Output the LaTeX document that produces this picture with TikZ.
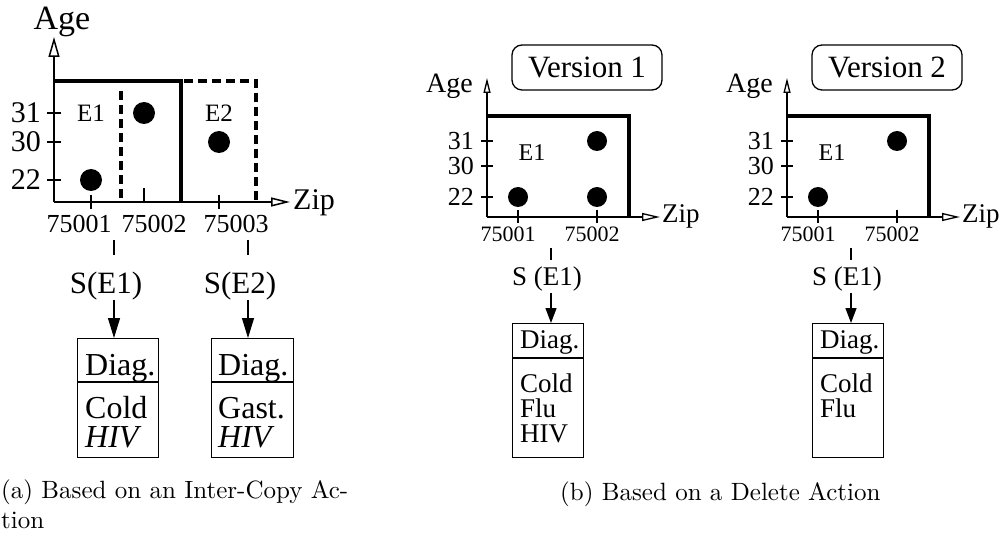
\documentclass[tikz,border=0pt]{standalone}
\usepackage{fontspec}
\newfontfamily\tms{Liberation Serif}
\newfontfamily\capfont{lmroman10-regular.otf}
\usetikzlibrary{arrows.meta}
\newcommand{\setfs}[1]{\fontsize{#1}{#1}\selectfont}

\begin{document}
\begin{tikzpicture}[x=1pt,y=-1pt,inner sep=0pt,
    axisbig/.style={line width=1.5pt,-{Triangle[open,length=20pt,width=11pt]}},
    axisbigx/.style={line width=1.5pt,-{Triangle[open,length=19pt,width=9pt]}},
    axissmall/.style={line width=1.3pt,-{Triangle[open,length=15pt,width=7pt]}},
    axissmallx/.style={line width=1.3pt,-{Triangle[open,length=18pt,width=8pt]}},
    border/.style={line width=4pt},
    dashborder/.style={line width=4pt,dash pattern=on 9pt off 5pt},
    tick/.style={line width=1.3pt},
    getarrow/.style={line width=1.3pt,-{Triangle[length=20pt,width=12pt]}},
    getarrowsmall/.style={line width=1.3pt,-{Triangle[length=15pt,width=11pt]}},
    table/.style={draw,line width=1.3pt,anchor=north west},
    version/.style={draw,line width=1.3pt,rounded corners=10pt,minimum width=150pt,minimum height=45pt,font=\tms\setfs{31}},
    biglab/.style={font=\tms\setfs{30}},
    smalllab/.style={font=\tms\setfs{26}},
    caption/.style={anchor=base west,font=\capfont\setfs{25}}]
    \useasboundingbox (0,0) rectangle (1003,537);

    % (a) inter-copy
    \node[anchor=base,font=\tms\setfs{34}] (age1) at (62,30) {Age};
    \coordinate (o1) at (54,202);
    \coordinate (ytop1) at (54,37);
    \coordinate (xend1) at (290,202);
    \draw[axisbig] (o1) -- (ytop1);
    \draw[axisbigx] (o1) -- (xend1);
    \node[biglab,anchor=base west] (zip1) at (293,210) {Zip};
    \draw[border] (54,81) -- (181,81) -- (181,202);
    \draw[dashborder] (121,91) -- (121,202);
    \draw[dashborder] (184,81) -- (256,81) -- (256,202);
    \draw[tick] (47,113) -- (61,113);
    \draw[tick] (47,142) -- (61,142);
    \draw[tick] (47,180) -- (61,180);
    \node[biglab,anchor=east] (a31) at (41,113) {31};
    \node[biglab,anchor=east] (a30) at (41,142) {30};
    \node[biglab,anchor=east] (a22) at (41,180) {22};
    \draw[tick] (91,195) -- (91,209);
    \draw[tick] (144,188) -- (144,202);
    \draw[tick] (219,195) -- (219,209);
    \node[smalllab,anchor=base] (a75001) at (79,233) {75001};
    \node[smalllab,anchor=base] (a75002) at (154,233) {75002};
    \node[smalllab,anchor=base] (a75003) at (236,233) {75003};
    \fill (91,180) circle (11);
    \fill (144,113) circle (11);
    \fill (219,142) circle (11);
    \node[font=\tms\setfs{25}] (ae1) at (91,113) {E1};
    \node[font=\tms\setfs{25}] (ae2) at (219,113) {E2};
    \draw[tick] (114,240) -- (114,255);
    \draw[tick] (248,240) -- (248,255);
    \node[font=\tms\setfs{31},anchor=base] (se1) at (106,293) {S(E1)};
    \node[font=\tms\setfs{31},anchor=base] (se2) at (240,293) {S(E2)};
    \node[table,minimum width=81pt,minimum height=119pt] (tab1) at (77,338) {};
    \node[table,minimum width=82pt,minimum height=119pt] (tab2) at (211,338) {};
    \coordinate (p1) at (114,300);
    \coordinate (p2) at (248,300);
    \draw[getarrow] (p1) -- (p1 |- tab1.north);
    \draw[getarrow] (p2) -- (p2 |- tab2.north);
    \draw[tick] (77,382) -- (158,382);
    \draw[tick] (211,382) -- (293,382);
    \node[font=\tms\setfs{32},anchor=base west] (d1) at (85,375) {Diag.};
    \node[font=\tms\setfs{32},anchor=base west] (c1) at (85,418) {Cold};
    \node[font=\tms\itshape\setfs{32},anchor=base west] (h1) at (85,447) {HIV};
    \node[font=\tms\setfs{32},anchor=base west] (d2) at (218,375) {Diag.};
    \node[font=\tms\setfs{32},anchor=base west] (g2) at (218,418) {Gast.};
    \node[font=\tms\itshape\setfs{32},anchor=base west] (h2) at (218,447) {HIV};
    \node[caption] (capa) at (1,498) {(a) Based on an Inter-Copy Ac-};
    \node[caption] (capa2) at (1,528) {tion};

    % (b) delete, version 1
    \node[version] (v1) at (587,67.5) {Version 1};
    \node[font=\tms\setfs{28},anchor=base east] (age2) at (473,93) {Age};
    \coordinate (o2) at (487,217);
    \coordinate (ytop2) at (487,78);
    \coordinate (xend2) at (660,217);
    \draw[axissmall] (o2) -- (ytop2);
    \draw[axissmallx] (o2) -- (xend2);
    \node[font=\tms\setfs{27},anchor=base west] (zip2) at (662,223) {Zip};
    \draw[border] (487,116) -- (629,116) -- (629,217);
    \draw[tick] (481,141) -- (493,141);
    \draw[tick] (481,166) -- (493,166);
    \draw[tick] (481,197) -- (493,197);
    \node[smalllab,anchor=east] (b31) at (474,141) {31};
    \node[smalllab,anchor=east] (b30) at (474,166) {30};
    \node[smalllab,anchor=east] (b22) at (474,197) {22};
    \draw[tick] (518,210) -- (518,223);
    \draw[tick] (597,210) -- (597,223);
    \node[font=\tms\setfs{22},anchor=base] (b75001) at (508,242) {75001};
    \node[font=\tms\setfs{22},anchor=base] (b75002) at (592,242) {75002};
    \node[font=\tms\setfs{24}] (be1) at (532,153) {E1};
    \fill (518,197) circle (10);
    \fill (597,141) circle (10);
    \fill (597,197) circle (10);
    \draw[tick] (551,248) -- (551,260);
    \node[font=\tms\setfs{27},anchor=base] (bs1) at (547,285) {S (E1)};
    \node[table,minimum width=71pt,minimum height=134pt] (tab3) at (512,323) {};
    \coordinate (p3) at (551,293);
    \draw[getarrowsmall] (p3) -- (p3 |- tab3.north);
    \draw[tick] (512,358) -- (583,358);
    \node[font=\tms\setfs{27},anchor=base west] (d3) at (520,348) {Diag.};
    \node[font=\tms\setfs{27},anchor=base west] (c3) at (520,392) {Cold};
    \node[font=\tms\setfs{27},anchor=base west] (f3) at (520,417) {Flu};
    \node[font=\tms\setfs{27},anchor=base west] (h3) at (520,442) {HIV};

    % (b) delete, version 2
    \node[version] (v2) at (887,67.5) {Version 2};
    \node[font=\tms\setfs{28},anchor=base east] (age3) at (773,93) {Age};
    \coordinate (o3) at (787,217);
    \coordinate (ytop3) at (787,78);
    \coordinate (xend3) at (960,217);
    \draw[axissmall] (o3) -- (ytop3);
    \draw[axissmallx] (o3) -- (xend3);
    \node[font=\tms\setfs{27},anchor=base west] (zip3) at (962,223) {Zip};
    \draw[border] (787,116) -- (929,116) -- (929,217);
    \draw[tick] (781,141) -- (793,141);
    \draw[tick] (781,166) -- (793,166);
    \draw[tick] (781,197) -- (793,197);
    \node[smalllab,anchor=east] (c31) at (774,141) {31};
    \node[smalllab,anchor=east] (c30) at (774,166) {30};
    \node[smalllab,anchor=east] (c22) at (774,197) {22};
    \draw[tick] (818,210) -- (818,223);
    \draw[tick] (897,210) -- (897,223);
    \node[font=\tms\setfs{22},anchor=base] (c75001) at (808,242) {75001};
    \node[font=\tms\setfs{22},anchor=base] (c75002) at (892,242) {75002};
    \node[font=\tms\setfs{24}] (ce1) at (832,153) {E1};
    \fill (818,197) circle (10);
    \fill (897,141) circle (10);
    \draw[tick] (851,248) -- (851,260);
    \node[font=\tms\setfs{27},anchor=base] (cs1) at (847,285) {S (E1)};
    \node[table,minimum width=71pt,minimum height=134pt] (tab4) at (812,323) {};
    \coordinate (p4) at (851,293);
    \draw[getarrowsmall] (p4) -- (p4 |- tab4.north);
    \draw[tick] (812,358) -- (883,358);
    \node[font=\tms\setfs{27},anchor=base west] (d4) at (820,348) {Diag.};
    \node[font=\tms\setfs{27},anchor=base west] (c4) at (820,392) {Cold};
    \node[font=\tms\setfs{27},anchor=base west] (f4) at (820,417) {Flu};
    \node[caption] (capb) at (560,500) {(b) Based on a Delete Action};
\end{tikzpicture}
\end{document}
